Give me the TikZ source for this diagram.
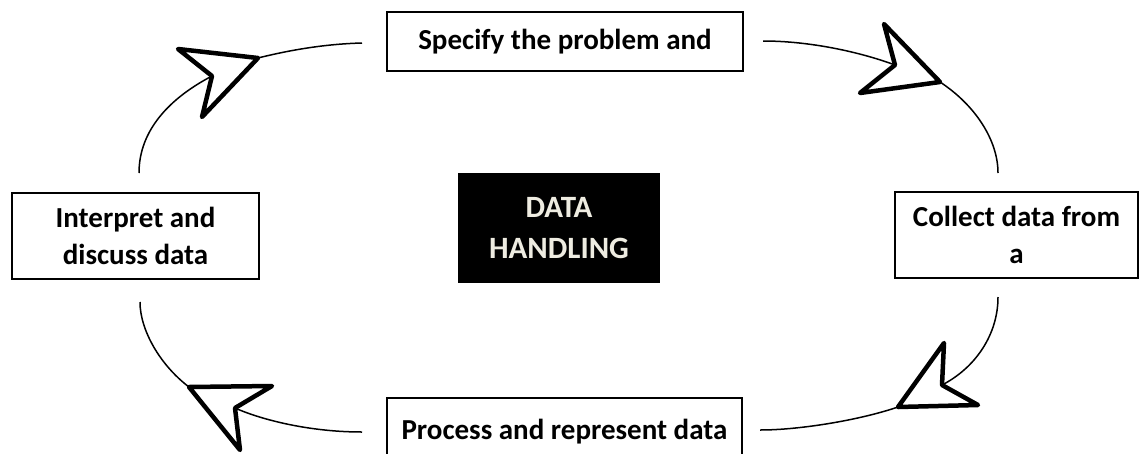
\documentclass[tikz,border=0pt]{standalone}
\usepackage{fontspec}
\setmainfont{Carlito}
\usepackage{tikz}
\usetikzlibrary{arrows.meta,positioning}
\definecolor{paper}{HTML}{EEECE1}

\begin{document}
\begin{tikzpicture}[
    x=1pt, y=-1pt,
    block/.style={draw, line width=2.6pt, align=center, inner sep=0pt,
        font=\bfseries\fontsize{29}{37}\selectfont},
    hub/.style={fill=black, text=paper, align=center, inner sep=0pt,
        font=\bfseries\fontsize{31}{41}\selectfont},
    link/.style={line width=1.5pt},
    dart/.style={draw, fill=white, line width=4.5pt, line join=round}
]
\useasboundingbox (0,0) rectangle (1140,453);
\node[hub, minimum width=202pt, minimum height=110pt] (hub) at (559,228) {DATA\\HANDLING};
\node[block, minimum width=356pt, minimum height=59pt] (spec) at (565,41.5) {Specify the problem and};
\node[block, minimum width=243pt, minimum height=86pt] (collect) at (1016.5,235) {Collect data from\\a};
\node[block, minimum width=355pt, minimum height=68pt] (process) at (564.5,432) {Process and represent data};
\node[block, minimum width=247pt, minimum height=86pt] (interp) at (135.5,236) {Interpret and\\discuss data};

% loose ends of the connectors
\coordinate (i1) at (139,173);
\coordinate (s0) at (362,43);
\coordinate (s1) at (763,41);
\coordinate (c0) at (998,173);
\coordinate (c1) at (998,297);
\coordinate (p0) at (760,430);
\coordinate (p1) at (362,432);
\coordinate (i0) at (140,302);

% interpret -> specify
\draw[link] (i1) .. controls (139,130) and (170,98) .. (212,76);
\draw[link] (258,58) .. controls (290,50) and (325,44) .. (s0);
\draw[dart] (178,49) -- (258,58) -- (202,117) -- (212,76) -- cycle;

% specify -> collect
\draw[link] (s1) .. controls (810,41) and (860,52) .. (895,65);
\draw[link] (940,82) .. controls (975,105) and (998,140) .. (c0);
\draw[dart] (884,24) -- (940,82) -- (860,93) -- (895,65) -- cycle;

% collect -> process
\draw[link] (c1) .. controls (998,335) and (975,368) .. (942,385);
\draw[link] (898,407) .. controls (860,420) and (800,430) .. (p0);
\draw[dart] (944,343) -- (898,407) -- (978,405) -- (942,385) -- cycle;

% process -> interpret
\draw[link] (p1) .. controls (310,432) and (262,420) .. (235,408);
\draw[link] (189,387) .. controls (160,365) and (140,330) .. (i0);
\draw[dart] (272,386) -- (189,387) -- (240,450) -- (235,408) -- cycle;
\end{tikzpicture}
\end{document}
